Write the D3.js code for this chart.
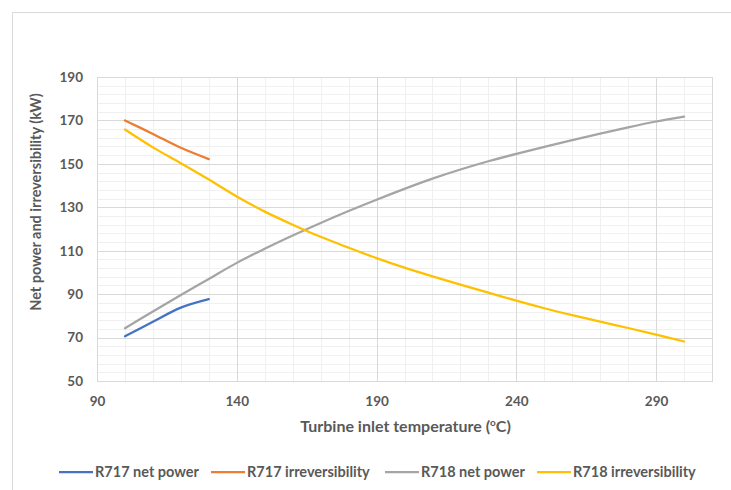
<!DOCTYPE html>
<html>
<head>
<meta charset="utf-8">
<script src="https://cdn.jsdelivr.net/npm/d3@7"></script>
<style>
  html, body { margin: 0; padding: 0; background: #ffffff; }
  svg { display: block; font-family: Lato, "Open Sans", sans-serif; }
</style>
</head>
<body>
<svg id="chart" width="731" height="490"></svg>
<script>
// ---- data ----
const temps717 = [100, 110, 120, 130];
const r717NetPower = [70.6, 77.3, 83.8, 87.7];
const r717Irrev = [170.0, 163.8, 157.4, 152.2];

const temps718 = [100, 110, 120, 130, 140, 150, 160, 170, 180, 190, 200, 210, 220, 230, 240, 250, 260, 270, 280, 290, 300];
const r718NetPower = [74.3, 82.0, 89.6, 97.0, 104.4, 110.9, 117.0, 122.8, 128.3, 133.5, 138.5, 143.2, 147.4, 151.2, 154.6, 157.8, 160.9, 163.9, 166.8, 169.5, 171.8];
const r718Irrev = [165.8, 157.6, 150.3, 142.8, 135.0, 128.0, 122.0, 116.4, 111.4, 106.6, 102.2, 98.2, 94.4, 90.7, 87.0, 83.5, 80.3, 77.3, 74.4, 71.4, 68.2];

const xTicks = [90, 140, 190, 240, 290];
const yTicks = [50, 70, 90, 110, 130, 150, 170, 190];
const seriesNames = ["R717 net power", "R717 irreversibility", "R718 net power", "R718 irreversibility"];
const seriesColors = ["#4472C4", "#ED7D31", "#A5A5A5", "#FFC000"];

const series = [
  { name: seriesNames[0], xs: temps717, ys: r717NetPower, color: seriesColors[0] },
  { name: seriesNames[1], xs: temps717, ys: r717Irrev, color: seriesColors[1] },
  { name: seriesNames[2], xs: temps718, ys: r718NetPower, color: seriesColors[2] },
  { name: seriesNames[3], xs: temps718, ys: r718Irrev, color: seriesColors[3] }
];

// ---- layout ----
const svg = d3.select("#chart");
const plot = { left: 97, right: 712, top: 77, bottom: 381 };
const x = d3.scaleLinear().domain([90, 310]).range([plot.left, plot.right]);
const y = d3.scaleLinear().domain([50, 190]).range([plot.bottom, plot.top]);

// outer chart border
svg.append("rect")
  .attr("x", 12.5).attr("y", 12.5)
  .attr("width", 740).attr("height", 500)
  .attr("fill", "none").attr("stroke", "#d9d9d9").attr("stroke-width", 1);

// minor gridlines
const yMinor = d3.range(50, 190.001, 4);
const xMinor = d3.range(90, 310.001, 10);
const g = svg.append("g");
g.selectAll(".ymin").data(yMinor).join("line")
  .attr("x1", plot.left).attr("x2", plot.right)
  .attr("y1", d => Math.round(y(d)) + 0.5).attr("y2", d => Math.round(y(d)) + 0.5)
  .attr("stroke", "#f0f0f0").attr("stroke-width", 1);
g.selectAll(".xmin").data(xMinor).join("line")
  .attr("y1", plot.top).attr("y2", plot.bottom)
  .attr("x1", d => Math.round(x(d)) + 0.5).attr("x2", d => Math.round(x(d)) + 0.5)
  .attr("stroke", "#f0f0f0").attr("stroke-width", 1);

// major gridlines
g.selectAll(".ymaj").data(yTicks).join("line")
  .attr("x1", plot.left).attr("x2", plot.right)
  .attr("y1", d => Math.round(y(d)) + 0.5).attr("y2", d => Math.round(y(d)) + 0.5)
  .attr("stroke", "#d9d9d9").attr("stroke-width", 1);
g.selectAll(".xmaj").data(xTicks).join("line")
  .attr("y1", plot.top).attr("y2", plot.bottom)
  .attr("x1", d => Math.round(x(d)) + 0.5).attr("x2", d => Math.round(x(d)) + 0.5)
  .attr("stroke", "#d9d9d9").attr("stroke-width", 1);

// plot border
svg.append("rect")
  .attr("x", plot.left + 0.5).attr("y", plot.top + 0.5)
  .attr("width", plot.right - plot.left).attr("height", plot.bottom - plot.top)
  .attr("fill", "none").attr("stroke", "#d9d9d9").attr("stroke-width", 1);

// axes (labels only)
const yAxis = d3.axisLeft(y).tickValues(yTicks).tickSize(0).tickPadding(14).tickFormat(d3.format("d"));
const xAxis = d3.axisBottom(x).tickValues(xTicks).tickSize(0).tickPadding(15).tickFormat(d3.format("d"));

const ya = svg.append("g").attr("transform", `translate(${plot.left},0)`).call(yAxis);
const xa = svg.append("g").attr("transform", `translate(0,${plot.bottom})`).call(xAxis);
[ya, xa].forEach(a => {
  a.select(".domain").remove();
  a.selectAll("text")
    .attr("fill", "#595959")
    .style("font-family", "Lato, 'Open Sans', sans-serif")
    .style("font-size", "13.5px")
    .style("font-weight", "bold");
});

// series lines
const line = d3.line()
  .x(d => x(d[0]))
  .y(d => y(d[1]))
  .curve(d3.curveCatmullRom.alpha(0.5));

svg.append("g").selectAll("path").data(series).join("path")
  .attr("d", s => line(s.xs.map((t, i) => [t, s.ys[i]])))
  .attr("fill", "none")
  .attr("stroke", s => s.color)
  .attr("stroke-width", 2.25)
  .attr("stroke-linecap", "round")
  .attr("stroke-linejoin", "round");

// axis titles
const xt = svg.append("text")
  .attr("x", (plot.left + plot.right) / 2 + 1)
  .attr("y", 432)
  .attr("text-anchor", "middle")
  .attr("fill", "#595959")
  .style("font-size", "16px")
  .style("font-weight", "bold");
xt.append("tspan").text("Turbine inlet temperature (");
xt.append("tspan").attr("baseline-shift", "super").style("font-size", "10px").text("o");
xt.append("tspan").text("C)");

svg.append("text")
  .attr("transform", "translate(41,202) rotate(-90)")
  .attr("text-anchor", "middle")
  .attr("fill", "#595959")
  .style("font-size", "14.5px")
  .style("font-weight", "bold")
  .text("Net power and irreversibility (kW)");

// legend
const legendX = [59, 211, 385, 537];
const lg = svg.append("g").selectAll("g").data(series).join("g")
  .attr("transform", (s, i) => `translate(${legendX[i]},472)`);
lg.append("line")
  .attr("x1", 0).attr("x2", 34).attr("y1", 0).attr("y2", 0)
  .attr("stroke", s => s.color).attr("stroke-width", 2.25);
lg.append("text")
  .attr("x", 36).attr("y", 0).attr("dy", "0.35em")
  .attr("fill", "#595959")
  .style("font-size", "14.5px")
  .style("font-weight", "bold")
  .text(s => s.name);
</script>
</body>
</html>
